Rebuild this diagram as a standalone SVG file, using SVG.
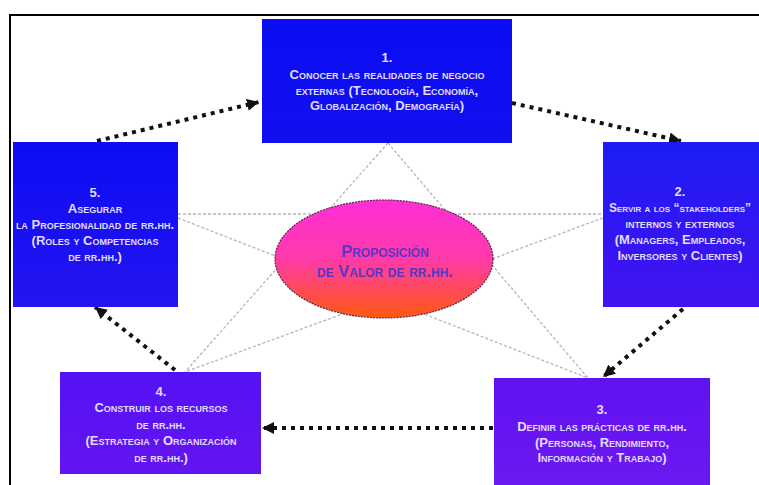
<svg xmlns="http://www.w3.org/2000/svg" width="759" height="485" viewBox="0 0 759 485">
<defs>
<style>
.bt{font-family:"Liberation Sans",Arial,sans-serif;font-weight:bold;font-variant:small-caps;font-size:13px;fill:#e2dcff;text-anchor:middle}
.et{font-family:"Liberation Sans",Arial,sans-serif;font-weight:bold;font-variant:small-caps;font-size:16.5px;fill:#5a36c4;text-anchor:middle}
.star{stroke:#b4b4ba;stroke-width:1.3;stroke-dasharray:3 2;fill:none}
.arr{stroke:#111;stroke-width:4;stroke-dasharray:4 5;fill:none;marker-end:url(#ah)}
</style>
<marker id="ah" markerUnits="userSpaceOnUse" markerWidth="14" markerHeight="12" refX="12" refY="6" orient="auto">
<path d="M0,0 L12,6 L0,12 z" fill="#111"/>
</marker>
<linearGradient id="g1" x1="0" y1="0" x2="0" y2="1"><stop offset="0" stop-color="#0c0cf4"/><stop offset="1" stop-color="#1010ee"/></linearGradient>
<linearGradient id="g5" x1="0" y1="0" x2="0" y2="1"><stop offset="0" stop-color="#0c0cf4"/><stop offset="1" stop-color="#2414f0"/></linearGradient>
<linearGradient id="g2" x1="0" y1="0" x2="0" y2="1"><stop offset="0" stop-color="#1c1cf4"/><stop offset="1" stop-color="#4412f0"/></linearGradient>
<linearGradient id="g4" x1="0" y1="0" x2="0" y2="1"><stop offset="0" stop-color="#5412f4"/><stop offset="1" stop-color="#6414f0"/></linearGradient>
<linearGradient id="g3" x1="0" y1="0" x2="0" y2="1"><stop offset="0" stop-color="#6012f2"/><stop offset="1" stop-color="#6c18f0"/></linearGradient>
<linearGradient id="ge" x1="0" y1="0" x2="0" y2="1"><stop offset="0" stop-color="#ff2ed8"/><stop offset="0.5" stop-color="#ff3aa8"/><stop offset="1" stop-color="#ff5a10"/></linearGradient>
</defs>
<rect width="759" height="485" fill="#ffffff"/>
<path d="M10,485 V15 H759" fill="none" stroke="#000" stroke-width="2"/>
<g id="star">
<line class="star" x1="388" y1="143" x2="185" y2="372"/>
<line class="star" x1="388" y1="143" x2="588" y2="378"/>
<line class="star" x1="178" y1="214" x2="603" y2="214"/>
<line class="star" x1="178" y1="218" x2="588" y2="378"/>
<line class="star" x1="603" y1="218" x2="185" y2="372"/>
</g>
<g id="connectors">
<line class="arr" x1="97" y1="141" x2="259" y2="102"/>
<line class="arr" x1="512" y1="103" x2="681" y2="141"/>
<line class="arr" x1="683" y1="309" x2="603" y2="377"/>
<line class="arr" x1="493" y1="428" x2="262" y2="428"/>
<line class="arr" x1="175" y1="370" x2="95" y2="307"/>
</g>
<g id="n1">
<rect x="262" y="19" width="250" height="124" fill="url(#g1)"/>
<text class="bt" x="387" y="62">1.</text>
<text class="bt" x="387" y="79">Conocer las realidades de negocio</text>
<text class="bt" x="387" y="95">externas (Tecnología, Economía,</text>
<text class="bt" x="387" y="110">Globalización, Demografía)</text>
</g>
<g id="n2">
<rect x="603" y="142" width="156" height="165" fill="url(#g2)"/>
<text class="bt" x="680" y="196">2.</text>
<text class="bt" x="680" y="212" style="font-size:12px">Servir a los “stakeholders”</text>
<text class="bt" x="680" y="228">internos y externos</text>
<text class="bt" x="680" y="244">(Managers, Empleados,</text>
<text class="bt" x="680" y="260">Inversores y Clientes)</text>
</g>
<g id="n3">
<rect x="494" y="378" width="216" height="107" fill="url(#g3)"/>
<text class="bt" x="602" y="414">3.</text>
<text class="bt" x="602" y="431">Definir las prácticas de rr.hh.</text>
<text class="bt" x="602" y="447">(Personas, Rendimiento,</text>
<text class="bt" x="602" y="462">Información y Trabajo)</text>
</g>
<g id="n4">
<rect x="60" y="372" width="201" height="102" fill="url(#g4)"/>
<text class="bt" x="161" y="396">4.</text>
<text class="bt" x="161" y="412">Construir los recursos</text>
<text class="bt" x="161" y="429">de rr.hh.</text>
<text class="bt" x="161" y="445">(Estrategia y Organización</text>
<text class="bt" x="161" y="462">de rr.hh.)</text>
</g>
<g id="n5">
<rect x="13" y="142" width="165" height="165" fill="url(#g5)"/>
<text class="bt" x="95" y="197">5.</text>
<text class="bt" x="95" y="213">Asegurar</text>
<text class="bt" x="95" y="229">la Profesionalidad de rr.hh.</text>
<text class="bt" x="95" y="245">(Roles y Competencias</text>
<text class="bt" x="95" y="261">de rr.hh.)</text>
</g>
<g id="center">
<ellipse cx="384" cy="259" rx="109" ry="59" fill="url(#ge)" stroke="#5a2050" stroke-width="1.2" stroke-dasharray="2 1"/>
<text class="et" x="385" y="257">Proposición</text>
<text class="et" x="385" y="277">de Valor de rr.hh.</text>
</g>
</svg>
